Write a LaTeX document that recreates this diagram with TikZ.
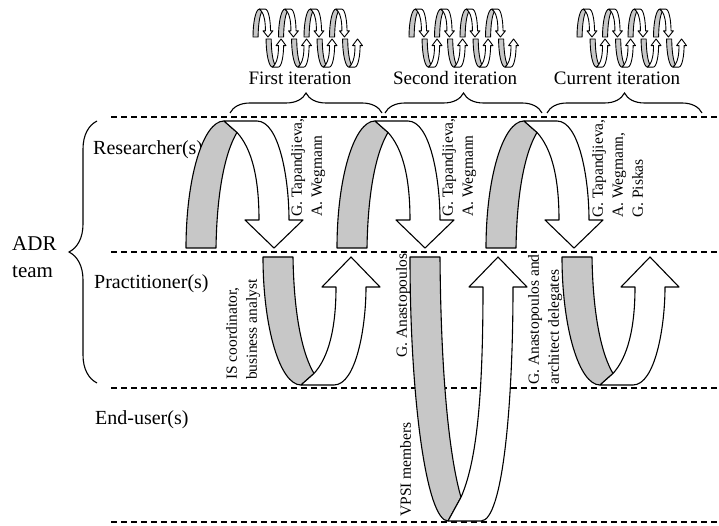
\documentclass[tikz,border=0pt]{standalone}
\usepackage{fontspec}
\setmainfont{Liberation Serif}
\usetikzlibrary{decorations.pathreplacing}

% One curved band: a shaded back leg and a white front leg ending in an arrowhead.
% #1 = height of the bend above the base, #2 = distance of the arrowhead shoulders from the base
\newcommand{\curvedband}[2]{%
  \path[backband] (0,0) -- (30,0)
    .. controls (31,{0.5*#1}) and (41,{0.78*#1}) .. (51,{0.91*#1})
    -- (38,#1)
    .. controls (17,#1) and (0,{0.55*#1}) .. (0,0) -- cycle;
  \path[frontband] (38,#1) -- (71,#1)
    .. controls (93,#1) and (103,{0.55*#1}) .. (103,#2)
    -- (117,#2) -- (88,0) -- (59,#2) -- (73,#2)
    .. controls (73,{0.55*#1}) and (66,{0.78*#1}) .. (51,{0.91*#1}) -- cycle;
}

\begin{document}
\begin{tikzpicture}[x=1pt,y=-1pt,
  backband/.style={fill=black!22, draw=black, line width=1.1pt, line join=round},
  frontband/.style={fill=white, draw=black, line width=1.1pt, line join=round},
  lanesep/.style={dash pattern=on 6pt off 4pt, line width=1.1pt},
  curlybrace/.style={decorate, decoration={brace, amplitude=#1}, line width=1.1pt},
  itertext/.style={font=\fontsize{19}{23}\selectfont, inner sep=0pt},
  lanetext/.style={font=\fontsize{20}{27}\selectfont, inner sep=0pt},
  vlabel/.style={font=\fontsize{15.5}{20}\selectfont, rotate=90, anchor=north west, align=left, inner sep=0pt},
  minigroup/.style={xscale=0.17, yscale=0.22,
    backband/.append style={line width=0.9pt},
    frontband/.append style={line width=0.9pt}}]
\useasboundingbox (0,0) rectangle (719,526);

% lane separators
\draw[lanesep] (111,117) -- (719,117);
\draw[lanesep] (111,252) -- (719,252);
\draw[lanesep] (111,388) -- (719,388);
\draw[lanesep] (111,522) -- (719,522);

% lane names
\node[lanetext, anchor=west] (res) at (93,150) {Researcher(s)};
\node[lanetext, anchor=west] (pra) at (94,284) {Practitioner(s)};
\node[lanetext, anchor=west] (end) at (95,420) {End-user(s)};
\node[lanetext, font=\fontsize{21}{27}\selectfont, align=left, anchor=west] (adr) at (12,257) {ADR\\team};
\draw[curlybrace=28] (97,383) -- (97,121);

% iterations
\node[itertext] (it1) at (300,78) {First iteration};
\node[itertext] (it2) at (455,78) {Second iteration};
\node[itertext] (it3) at (617,78) {Current iteration};
\draw[curlybrace=20] (230,113) -- (382,113);
\draw[curlybrace=20] (385,113) -- (542,113);
\draw[curlybrace=20] (547,113) -- (702,113);

% small cycles above each iteration
\foreach \gx in {253,409,577} {
  \begin{scope}[shift={(\gx,37)}, minigroup]
    \foreach \i in {0,...,3} {
      \begin{scope}[shift={(\i*150,0)}, yscale=-1] \curvedband{127}{28} \end{scope}
      \begin{scope}[shift={(\i*150+77,9)}] \curvedband{128}{30} \end{scope}
    }
  \end{scope}
}

% researcher bands
\foreach \x in {186,337,486} {
  \begin{scope}[shift={(\x,248)}, yscale=-1] \curvedband{127}{28} \end{scope}
}
% practitioner and end-user bands
\begin{scope}[shift={(263,257)}] \curvedband{128}{30} \end{scope}
\begin{scope}[shift={(410,257)}] \curvedband{264}{30} \end{scope}
\begin{scope}[shift={(562,257)}] \curvedband{128}{30} \end{scope}

% participants
\node[vlabel] (r1) at (291,217) {G. Tapandjieva,\\A. Wegmann};
\node[vlabel] (r2) at (442,217) {G. Tapandjieva,\\A. Wegmann};
\node[vlabel] (r3) at (592,218) {G. Tapandjieva,\\A. Wegmann,\\G. Piskas};
\node[vlabel] (p1) at (226,380) {IS coordinator,\\business analyst};
\node[vlabel] (p2) at (396,358) {G. Anastopoulos};
\node[vlabel] (e2) at (400,517) {VPSI members};
\node[vlabel] (p3) at (528,385) {G. Anastopoulos and\\architect delegates};
\end{tikzpicture}
\end{document}
